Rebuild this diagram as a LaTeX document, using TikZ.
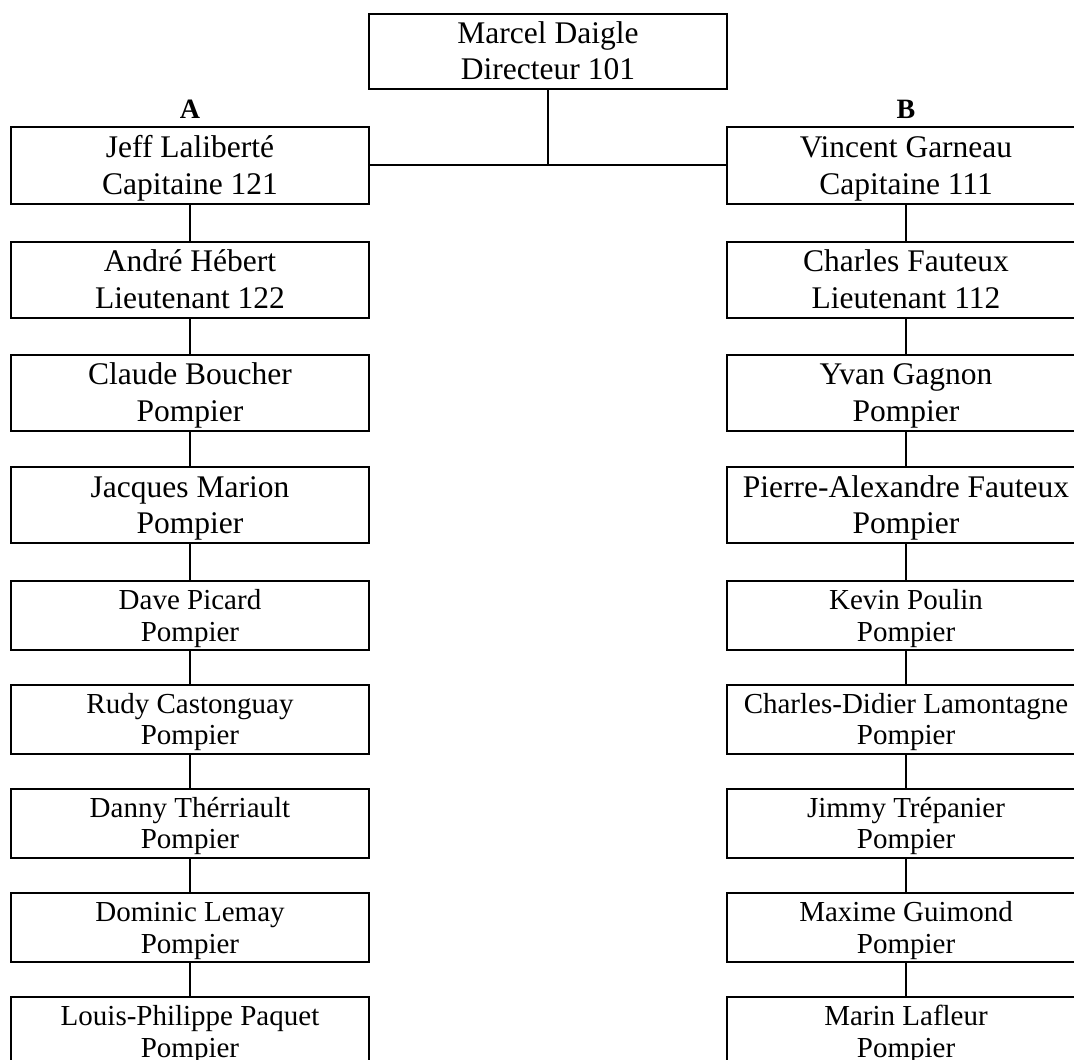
\documentclass[tikz,border=0pt]{standalone}
\usepackage{fontspec}
\setmainfont{Liberation Serif}
\begin{document}
\begin{tikzpicture}[x=0.5pt,y=-0.5pt,line width=1pt,
    poste/.style={draw,minimum width=179pt,minimum height=38pt,inner sep=0pt,align=center,
      font=\fontsize{15.75}{18.25}\selectfont,text height=32.5pt,text depth=4pt},
    pompier/.style={poste,minimum height=34.5pt,font=\fontsize{14.5}{15.85}\selectfont,
      text height=29.7pt,text depth=4pt},
    equipe/.style={anchor=base,inner sep=0pt,font=\fontsize{14}{16}\selectfont\bfseries}]
        \clip (0,0) rectangle (1074,1059);
        \node[poste,minimum height=37.5pt] (dir) at (548,51.5) {Marcel Daigle\\Directeur 101};
        \node[equipe] (eqA) at (190,119) {A};
        \node[equipe] (eqB) at (906,119) {B};
        % equipe A
        \node[poste] (a1) at (190,165.5) {Jeff Laliberté\\Capitaine 121};
        \node[poste] (a2) at (190,279.5) {André Hébert\\Lieutenant 122};
        \node[poste] (a3) at (190,392.5) {Claude Boucher\\Pompier};
        \node[poste] (a4) at (190,505) {Jacques Marion\\Pompier};
        \node[pompier] (a5) at (190,615.5) {Dave Picard\\Pompier};
        \node[pompier] (a6) at (190,719) {Rudy Castonguay\\Pompier};
        \node[pompier] (a7) at (190,823) {Danny Thérriault\\Pompier};
        \node[pompier] (a8) at (190,927.5) {Dominic Lemay\\Pompier};
        \node[pompier] (a9) at (190,1031.5) {Louis-Philippe Paquet\\Pompier};
        % equipe B
        \node[poste] (b1) at (906,165.5) {Vincent Garneau\\Capitaine 111};
        \node[poste] (b2) at (906,279.5) {Charles Fauteux\\Lieutenant 112};
        \node[poste] (b3) at (906,392.5) {Yvan Gagnon\\Pompier};
        \node[poste] (b4) at (906,505) {Pierre-Alexandre Fauteux\\Pompier};
        \node[pompier] (b5) at (906,615.5) {Kevin Poulin\\Pompier};
        \node[pompier] (b6) at (906,719) {Charles-Didier Lamontagne\\Pompier};
        \node[pompier] (b7) at (906,823) {Jimmy Trépanier\\Pompier};
        \node[pompier] (b8) at (906,927.5) {Maxime Guimond\\Pompier};
        \node[pompier] (b9) at (906,1031.5) {Marin Lafleur\\Pompier};
        \draw (dir.south) -- (dir.south |- a1.east);
        \draw (a1.east) -- (b1.west);
        \foreach \i [count=\j from 2] in {1,...,8} {
            \draw (a\i) -- (a\j);
            \draw (b\i) -- (b\j);
        }
\end{tikzpicture}
\end{document}
